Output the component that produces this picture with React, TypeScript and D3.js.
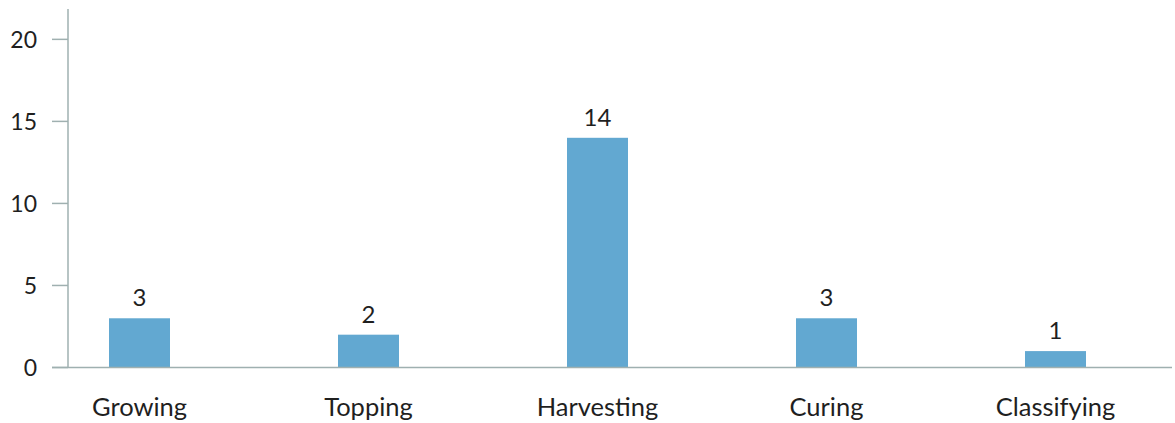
import React from "react";
import * as d3 from "d3";

const categories = ["Growing", "Topping", "Harvesting", "Curing", "Classifying"];
const counts = [3, 2, 14, 3, 1];
const yTicks = [0, 5, 10, 15, 20];
const yMax = 21.85;

const W = 1175;
const H = 423;
const axisX = 68;
const baseY = 367.5;
const topY = 9;

export default function App() {
  const x = d3.scaleBand<string>().domain(categories).range([25, 1170]);
  const y = d3.scaleLinear().domain([0, yMax]).range([baseY, topY]);
  const barW = 61;
  const axisColor = "#9fb0b0";
  const textColor = "#1f1f1f";
  const font = "Lato, 'Open Sans', sans-serif";

  return (
    <svg
      width={W}
      height={H}
      style={{ position: "absolute", left: 0, top: 0, display: "block" }}
      fontFamily={font}
    >
      {/* bars with value labels and category names */}
      {categories.map((c, i) => {
        const cx = (x(c) as number) + x.bandwidth() / 2;
        return (
          <g key={c}>
            <rect
              x={cx - barW / 2}
              y={y(counts[i])}
              width={barW}
              height={y(0) - y(counts[i])}
              fill="#62a8d1"
            />
            <text
              x={cx}
              y={y(counts[i]) - 12}
              textAnchor="middle"
              fontSize={24}
              fill={textColor}
            >
              {counts[i]}
            </text>
            <text
              x={cx}
              y={416}
              textAnchor="middle"
              fontSize={25.5}
              fill={textColor}
            >
              {c}
            </text>
          </g>
        );
      })}

      {/* y axis */}
      <line x1={axisX} x2={axisX} y1={topY} y2={baseY} stroke={axisColor} strokeWidth={1.5} />
      {yTicks.map((t) => (
        <g key={t}>
          <line x1={52} x2={axisX} y1={y(t)} y2={y(t)} stroke={axisColor} strokeWidth={1.5} />
          <text
            x={37}
            y={y(t)}
            dy="0.36em"
            textAnchor="end"
            fontSize={23}
            fill={textColor}
          >
            {t}
          </text>
        </g>
      ))}

      {/* baseline */}
      <line x1={52} x2={1172} y1={baseY} y2={baseY} stroke={axisColor} strokeWidth={1.5} />
    </svg>
  );
}
